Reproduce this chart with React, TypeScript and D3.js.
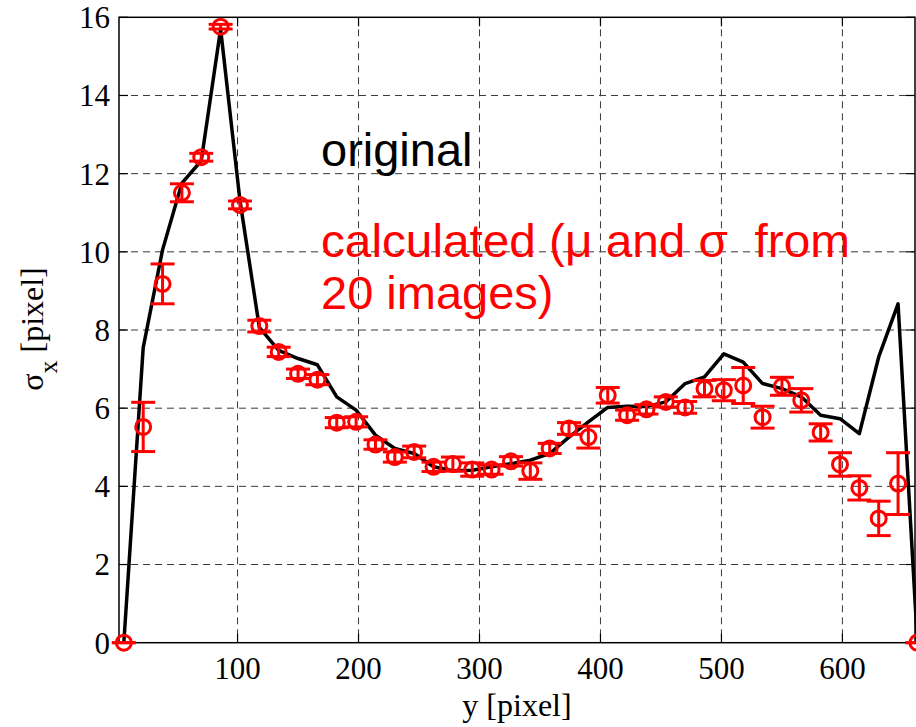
import React from "react";
import * as d3 from "d3";

const xPos = [6, 22, 38, 54, 70, 86, 102, 118, 134, 150, 166, 182, 198, 214, 230, 246, 262, 278, 294, 310, 326, 342, 358, 374, 390, 406, 422, 438, 454, 470, 486, 502, 518, 534, 550, 566, 582, 598, 614, 630, 646, 662];

const originalSigma = [0, 7.55, 10.05, 11.76, 12.33, 15.7, 11.31, 8.07, 7.48, 7.27, 7.11, 6.29, 5.95, 5.31, 4.97, 4.84, 4.5, 4.4, 4.41, 4.5, 4.58, 4.67, 4.84, 5.26, 5.65, 6.02, 6.05, 6.04, 6.16, 6.63, 6.8, 7.39, 7.18, 6.63, 6.5, 6.29, 5.82, 5.73, 5.35, 7.31, 8.67, 0];

const calcMean = [0, 5.52, 9.18, 11.51, 12.42, 15.76, 11.2, 8.1, 7.44, 6.88, 6.73, 5.63, 5.65, 5.07, 4.75, 4.88, 4.5, 4.57, 4.43, 4.43, 4.64, 4.39, 4.97, 5.48, 5.26, 6.33, 5.82, 5.97, 6.16, 6.02, 6.5, 6.46, 6.58, 5.77, 6.56, 6.2, 5.38, 4.56, 3.96, 3.18, 4.07, 0];

const calcErr = [0, 0.63, 0.51, 0.23, 0.1, 0.06, 0.1, 0.15, 0.12, 0.12, 0.13, 0.13, 0.13, 0.12, 0.13, 0.15, 0.12, 0.18, 0.17, 0.12, 0.12, 0.21, 0.13, 0.15, 0.28, 0.2, 0.13, 0.12, 0.13, 0.15, 0.21, 0.27, 0.46, 0.28, 0.23, 0.3, 0.22, 0.3, 0.31, 0.44, 0.79, 0];

const xTicks = [100, 200, 300, 400, 500, 600];
const yTicks = [0, 2, 4, 6, 8, 10, 12, 14, 16];

const W = 916;
const H = 727;
const L = 119;
const R = 915;
const T = 17.3;
const B = 642.7;

export default function App() {
  const x = d3.scaleLinear().domain([2, 660]).range([L, R]);
  const y = d3.scaleLinear().domain([0, 16]).range([B, T]);
  const line = d3
    .line<number>()
    .x((_, i) => x(xPos[i]))
    .y((d) => y(d));
  const serif = "'Liberation Serif', 'Times New Roman', serif";
  const sans = "'Liberation Sans', Arial, sans-serif";
  const gridColor = "#3a3a3a";
  const tickLen = 9;
  const cap = 12;

  return (
    <svg
      width={W}
      height={H}
      style={{ position: "absolute", left: 0, top: 0, background: "#fff" }}
    >
      <rect x={0} y={0} width={W} height={H} fill="#fff" />
      {/* grid */}
      {xTicks.map((t) => (
        <line key={"gx" + t} x1={x(t)} x2={x(t)} y1={T} y2={B} stroke={gridColor} strokeWidth={1} strokeDasharray="7,5" />
      ))}
      {yTicks.filter((t) => t > 0 && t < 16).map((t) => (
        <line key={"gy" + t} x1={L} x2={R} y1={y(t)} y2={y(t)} stroke={gridColor} strokeWidth={1} strokeDasharray="7,5" />
      ))}
      {/* ticks */}
      {xTicks.map((t) => (
        <g key={"tx" + t}>
          <line x1={x(t)} x2={x(t)} y1={B} y2={B - tickLen} stroke="#000" strokeWidth={1.2} />
          <line x1={x(t)} x2={x(t)} y1={T} y2={T + tickLen} stroke="#000" strokeWidth={1.2} />
          <text x={x(t)} y={679} textAnchor="middle" fontFamily={serif} fontSize={31} fill="#000">
            {t}
          </text>
        </g>
      ))}
      {yTicks.map((t) => (
        <g key={"ty" + t}>
          <line x1={L} x2={L + tickLen} y1={y(t)} y2={y(t)} stroke="#000" strokeWidth={1.2} />
          <line x1={R} x2={R - tickLen} y1={y(t)} y2={y(t)} stroke="#000" strokeWidth={1.2} />
          <text x={110} y={y(t)} dy="0.35em" textAnchor="end" fontFamily={serif} fontSize={31} fill="#000">
            {t}
          </text>
        </g>
      ))}
      {/* frame */}
      <rect x={L} y={T} width={R - L} height={B - T} fill="none" stroke="#000" strokeWidth={1.5} />

      {/* original line */}
      <path d={line(originalSigma) || ""} fill="none" stroke="#000" strokeWidth={3.5} strokeLinejoin="round" />

      {/* calculated with error bars */}
      {calcMean.map((m, i) => {
        const cx = x(xPos[i]);
        const e = calcErr[i];
        return (
          <g key={"p" + i} stroke="#ff0000" strokeWidth={3} fill="none">
            <line x1={cx} x2={cx} y1={y(m - e)} y2={y(m + e)} />
            <line x1={cx - cap} x2={cx + cap} y1={y(m - e)} y2={y(m - e)} />
            <line x1={cx - cap} x2={cx + cap} y1={y(m + e)} y2={y(m + e)} />
            <circle cx={cx} cy={y(m)} r={7.5} />
          </g>
        );
      })}

      {/* annotations */}
      <text x={321} y={166} fontFamily={sans} fontSize={47} fill="#000">
        original
      </text>
      <text x={321} y={257} fontFamily={sans} fontSize={47} fill="#ff0000" textLength={529} lengthAdjust="spacingAndGlyphs" style={{ whiteSpace: "pre" }}>
        {"calculated (μ and σ  from"}
      </text>
      <text x={321} y={309} fontFamily={sans} fontSize={47} fill="#ff0000">
        20 images)
      </text>

      {/* axis labels */}
      <text x={(L + R) / 2} y={716} textAnchor="middle" fontFamily={serif} fontSize={32} fill="#000">
        y [pixel]
      </text>
      <text transform="translate(43,329) rotate(-90)" textAnchor="middle" fontFamily={serif} fontSize={32} fill="#000" style={{ whiteSpace: "pre" }}>
        <tspan>σ</tspan>
        <tspan dy={14} fontSize={26}>x</tspan>
        <tspan dy={-14}> [pixel]</tspan>
      </text>
    </svg>
  );
}
